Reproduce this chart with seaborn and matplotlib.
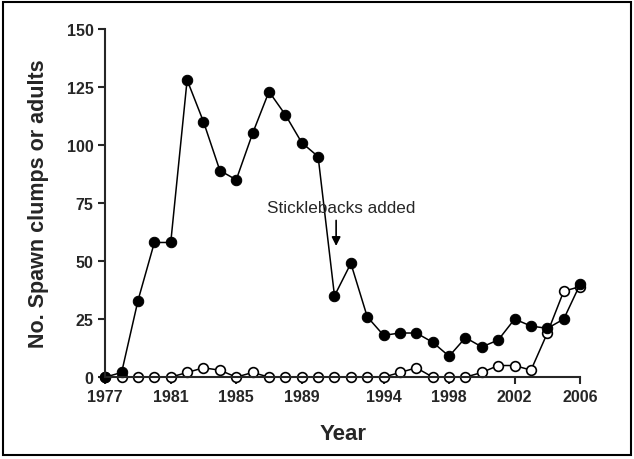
import matplotlib
matplotlib.use('Agg')
import pandas as pd
import seaborn as sns
import matplotlib.pyplot as plt
from matplotlib.patches import Rectangle

years = list(range(1977, 2007))
# filled circles
spawn = [0, 2, 33, 58, 58, 128, 110, 89, 85, 105, 123, 113, 101, 95, 35,
         49, 26, 18, 19, 19, 15, 9, 17, 13, 16, 25, 22, 21, 25, 40]
# open circles
adults = [0, 0, 0, 0, 0, 2, 4, 3, 0, 2, 0, 0, 0, 0, 0,
          0, 0, 0, 2, 4, 0, 0, 0, 2, 5, 5, 3, 19, 37, 39]
tick_years = [1977, 1981, 1985, 1989, 1994, 1998, 2002, 2006]
y_ticks = [0, 25, 50, 75, 100, 125, 150]

df = pd.DataFrame({'Year': years, 'spawn': spawn, 'adults': adults})

sns.set_style('ticks')
plt.rcParams['font.family'] = ['Liberation Sans', 'DejaVu Sans']

fig = plt.figure(figsize=(6.34, 4.6), dpi=100)
ax = fig.add_axes([0.166, 0.178, 0.749, 0.757])

sns.lineplot(data=df, x='Year', y='adults', ax=ax, color='black', lw=1.1,
             marker='o', markersize=7, markerfacecolor='white',
             markeredgecolor='black', markeredgewidth=1.2, clip_on=False)
sns.lineplot(data=df, x='Year', y='spawn', ax=ax, color='black', lw=1.1,
             marker='o', markersize=7.5, markerfacecolor='black',
             markeredgecolor='black', clip_on=False)

ax.set_xlim(1977, 2006)
ax.set_ylim(0, 150)
ax.set_xticks(tick_years)
ax.set_yticks(y_ticks)
sns.despine(ax=ax)
for s in ['left', 'bottom']:
    ax.spines[s].set_linewidth(1.5)
ax.tick_params(direction='out', length=5, width=1.5, labelsize=11.5)
for lab in ax.get_xticklabels() + ax.get_yticklabels():
    lab.set_fontweight('bold')

ax.set_xlabel('Year', fontsize=16, fontweight='bold', labelpad=14)
ax.set_ylabel('No. Spawn clumps or adults', fontsize=15.5, fontweight='bold', labelpad=13)

ax.text(1991.4, 73, 'Sticklebacks added', ha='center', va='center', fontsize=12.3)
ax.annotate('', xy=(1991.1, 56.5), xytext=(1991.1, 67.5),
            arrowprops=dict(arrowstyle='-|>', color='black', lw=1.2,
                            mutation_scale=13, shrinkA=0, shrinkB=0))

fig.patches.append(Rectangle((0.005, 0.008), 0.99, 0.985, transform=fig.transFigure,
                             fill=False, ec='black', lw=1.5))

plt.savefig('out.png', dpi=100)
